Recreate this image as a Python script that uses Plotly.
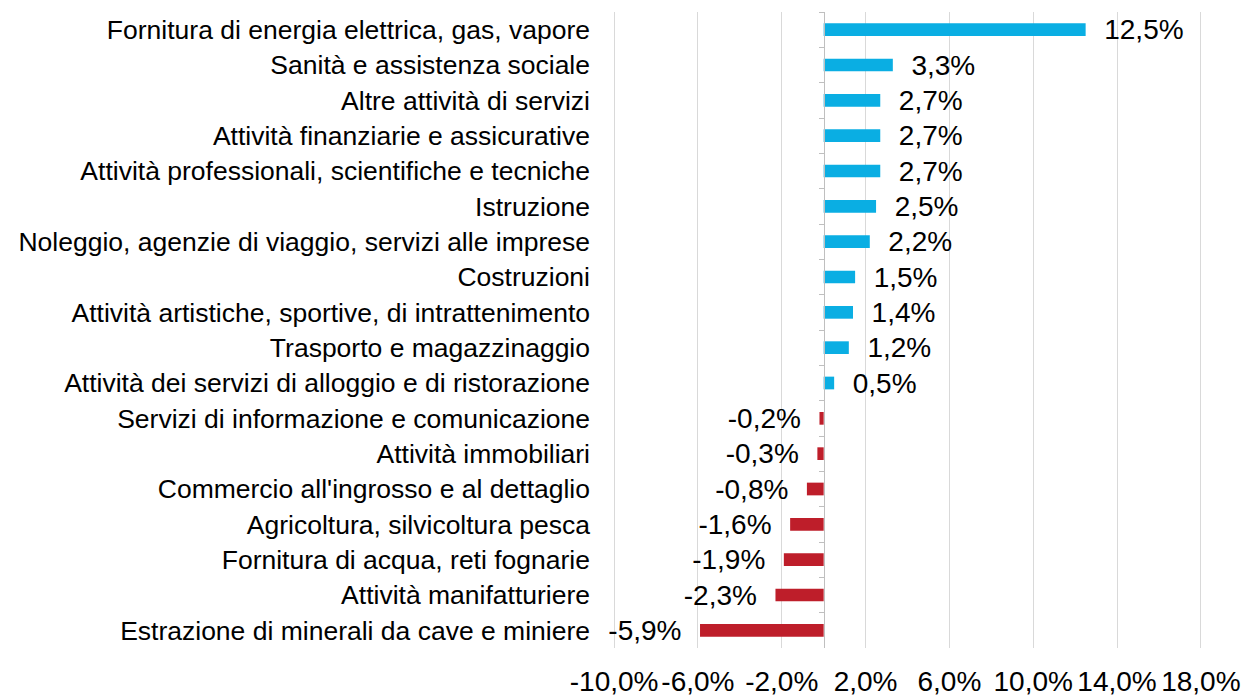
import plotly.graph_objects as go

categories = [
    "Fornitura di energia elettrica, gas, vapore",
    "Sanità e assistenza sociale",
    "Altre attività di servizi",
    "Attività finanziarie e assicurative",
    "Attività professionali, scientifiche e tecniche",
    "Istruzione",
    "Noleggio, agenzie di viaggio, servizi alle imprese",
    "Costruzioni",
    "Attività artistiche, sportive, di intrattenimento",
    "Trasporto e magazzinaggio",
    "Attività dei servizi di alloggio e di ristorazione",
    "Servizi di informazione e comunicazione",
    "Attività immobiliari",
    "Commercio all'ingrosso e al dettaglio",
    "Agricoltura, silvicoltura pesca",
    "Fornitura di acqua, reti fognarie",
    "Attività manifatturiere",
    "Estrazione di minerali da cave e miniere",
]
values = [12.5, 3.3, 2.7, 2.7, 2.7, 2.5, 2.2, 1.5, 1.4, 1.2, 0.5,
          -0.2, -0.3, -0.8, -1.6, -1.9, -2.3, -5.9]

tick_vals = [-10, -6, -2, 2, 6, 10, 14, 18]
tick_labels = ["-10,0%", "-6,0%", "-2,0%", "2,0%", "6,0%", "10,0%", "14,0%", "18,0%"]
x_min, x_max = -10.1, 18.1  # small pad so the edge gridlines are drawn

BLUE = "#0AAEE3"
RED = "#BE1E2A"
FONT = "Liberation Sans, Arial, sans-serif"
NB = "\u00a0"


def fmt(v):
    return f"{v:.1f}".replace(".", ",") + "%"


colors = [BLUE if v >= 0 else RED for v in values]
labels = [(NB * 2 + fmt(v)) if v >= 0 else (fmt(v) + NB * 2) for v in values]

fig = go.Figure()
fig.add_trace(go.Bar(
    y=categories, x=values, orientation="h",
    marker=dict(color=colors, line=dict(width=0)),
    text=labels, texttemplate="%{text}", textposition="outside",
    constraintext="none",
    textfont=dict(size=28, color="black", family=FONT),
    cliponaxis=False, showlegend=False, hoverinfo="skip",
    yaxis="y",
))
# invisible helper trace so the zero-axis (with category boundary ticks) renders
fig.add_trace(go.Bar(
    y=categories, x=values, orientation="h",
    marker=dict(color="rgba(0,0,0,0)", line=dict(width=0)),
    showlegend=False, hoverinfo="skip", yaxis="y2",
))

fig.update_layout(
    width=1246, height=697,
    margin=dict(l=612, r=43, t=12, b=49, autoexpand=False),
    paper_bgcolor="white", plot_bgcolor="white",
    separators=",.",
    bargap=0.64,
    font=dict(family=FONT, color="black"),
    xaxis=dict(
        range=[x_min, x_max],
        tickmode="array", tickvals=tick_vals, ticktext=tick_labels,
        tickangle=0, automargin=False,
        showgrid=True, gridcolor="#D9D9D9", gridwidth=1,
        zeroline=False, showline=False, ticks="",
        ticklabelstandoff=14,
        tickfont=dict(size=28, family=FONT, color="black"),
    ),
    yaxis=dict(
        categoryorder="array", categoryarray=categories,
        autorange="reversed", showgrid=False, zeroline=False,
        showline=False, ticks="", ticklabelstandoff=21, automargin=False,
        tickfont=dict(size=26.5, family=FONT, color="black"),
    ),
    yaxis2=dict(
        overlaying="y", anchor="free",
        position=(0 - x_min) / (x_max - x_min),
        categoryorder="array", categoryarray=categories,
        autorange="reversed", showgrid=False, zeroline=False,
        showline=True, linecolor="#BFBFBF", linewidth=1,
        ticks="outside", tickson="boundaries", ticklen=5,
        tickcolor="#BFBFBF", showticklabels=False, automargin=False,
    ),
)

fig.write_html(
    "out.html",
    config={"displayModeBar": False},
    post_script="document.body.style.margin='0';document.body.style.overflow='hidden';",
)
